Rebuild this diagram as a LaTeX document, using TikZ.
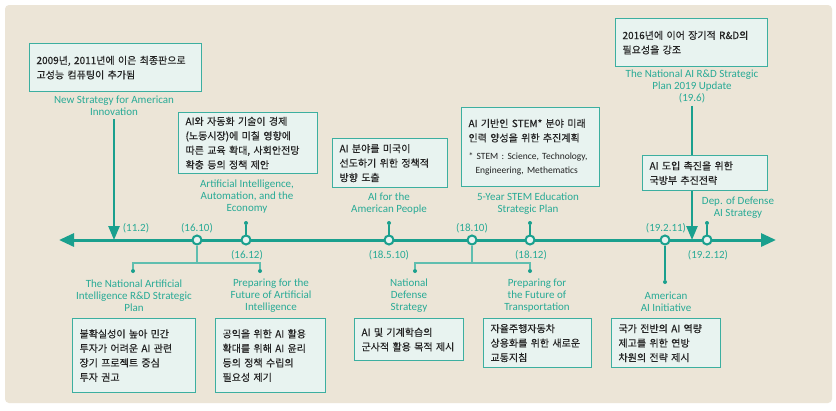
\documentclass[tikz,border=0pt]{standalone}
\usepackage{fontspec}
\setmainfont{Noto Sans CJK KR}
\newfontfamily\kfont[FakeBold=0.4]{Noto Sans CJK KR}
\newfontfamily\lfont{Carlito}
\usetikzlibrary{arrows.meta}
\definecolor{bgbeige}{RGB}{236,229,215}
\definecolor{tealline}{RGB}{26,160,142}
\definecolor{tealtext}{RGB}{40,170,150}
\definecolor{boxfill}{RGB}{232,243,240}
\definecolor{boxedge}{RGB}{60,175,160}
\definecolor{bracketteal}{RGB}{95,190,175}
\definecolor{inkdark}{RGB}{35,35,35}

\begin{document}
\begin{tikzpicture}[
  x=1pt, y=-1pt,
  kbox/.style={draw=boxedge, fill=boxfill, line width=1.1pt, anchor=north west,
               align=left, inner xsep=7pt, inner ysep=0pt, text=inkdark,
               font=\kfont\fontsize{10}{14.5}\selectfont},
  lab/.style={text=tealtext, align=center, inner sep=0pt,
              font=\lfont\fontsize{11}{12}\selectfont},
  datelab/.style={text=tealtext, inner sep=0pt,
                  font=\lfont\fontsize{11}{12}\selectfont},
  event/.style={circle, draw=tealline, fill=boxfill, line width=2pt,
                minimum size=9pt, inner sep=0pt},
  dot/.style={circle, fill=tealline, minimum size=4pt, inner sep=0pt},
  stem/.style={draw=tealline, line width=1.7pt},
  bracket/.style={draw=bracketteal, line width=1.5pt},
  timeline/.style={draw=tealline, line width=3pt,
                   {Triangle[length=15pt,width=13pt]}-{Triangle[length=15pt,width=13pt]}},
  pointer/.style={draw=tealline, line width=2.5pt,
                  -{Triangle[length=14pt,width=11pt]}},
]
\useasboundingbox (0,0) rectangle (836,410);
\fill[white] (0,0) rectangle (836,410);
\fill[bgbeige, rounded corners=4pt] (5,5) rectangle (832,403);

% -------------------------------------------------------------------------
% Timeline with events
% -------------------------------------------------------------------------
\coordinate (tl-w) at (59,240);
\coordinate (tl-e) at (776,240);
\draw[timeline] (tl-w) -- (tl-e);

\node[event] (e1610)  at (197,240) {};
\node[event] (e1612)  at (246,240) {};
\node[event] (e18510) at (389,240) {};
\node[event] (e1810)  at (472,240) {};
\node[event] (e1812)  at (530,240) {};
\node[event] (e19211) at (665,240) {};
\node[event] (e19212) at (707,240) {};

\node[dot] (d1612)  at (246,223) {};
\node[dot] (d18510) at (389,223) {};
\node[dot] (d1812)  at (530,223) {};
\node[dot] (d19212) at (707,223) {};
\node[dot] (d19211) at (665,282) {};
\node[dot] (d-nairdsp) at (133,271) {};
\node[dot] (d-pfai)    at (260,271) {};
\node[dot] (d-nds)     at (415,271) {};
\node[dot] (d-pft)     at (530,271) {};
\coordinate (j1610) at (197,263);
\coordinate (j1810) at (472,263);

\draw[stem] (e1612) -- (d1612);
\draw[stem] (e18510) -- (d18510);
\draw[stem] (e1812) -- (d1812);
\draw[stem] (e19212) -- (d19212);
\draw[stem] (e19211) -- (d19211);
\draw[bracket] (e1610) -- (j1610);
\draw[bracket] (d-nairdsp) |- (j1610) -| (d-pfai);
\draw[bracket] (e1810) -- (j1810);
\draw[bracket] (d-nds) |- (j1810) -| (d-pft);

\node[datelab] (t112)   at (136,228) {(11.2)};
\node[datelab] (t1610)  at (197,228) {(16.10)};
\node[datelab] (t1612)  at (247,255) {(16.12)};
\node[datelab] (t18510) at (389,255) {(18.5.10)};
\node[datelab] (t1810)  at (472,228) {(18.10)};
\node[datelab] (t1812)  at (531,255) {(18.12)};
\node[datelab] (t19211) at (666,228) {(19.2.11)};
\node[datelab] (t19212) at (708,255) {(19.2.12)};

% -------------------------------------------------------------------------
% Above the timeline
% -------------------------------------------------------------------------
\node[kbox, text width=158pt, minimum height=48pt] (b-nsai) at (29,43)
  {2009년, 2011년에 이은 최종판으로\\고성능 컴퓨팅이 추가됨};
\node[lab] (l-nsai) at (114,106) {New Strategy for American\\Innovation};
\coordinate (p112) at (114,240);
\draw[pointer, shorten <=3pt] (l-nsai) -- (p112);

\node[kbox, text width=125pt, minimum height=61pt] (b-aiae) at (178,112)
  {AI와 자동화 기술이 경제\\(노동시장)에 미칠 영향에\\따른 교육 확대, 사회안전망\\확충 등의 정책 제안};
\node[lab] (l-aiae) at (247,197) {Artificial Intelligence,\\Automation, and the\\Economy};

\node[kbox, text width=101pt, minimum height=49pt] (b-aiap) at (332,138)
  {AI 분야를 미국이\\선도하기 위한 정책적\\방향 도출};
\node[lab] (l-aiap) at (389,203.5) {AI for the\\American People};

\node[kbox, text width=124pt, minimum height=79pt] (b-stem) at (461,107)
  {AI 기반인 STEM* 분야 미래\\인력 양성을 위한 추진계획\\[3pt]
   {\lfont\fontsize{9.5}{14.5}\selectfont * STEM : Science, Technology,}\\
   {\lfont\fontsize{9.5}{14.5}\selectfont\hspace*{7pt}Engineering, Methematics}};
\node[lab] (l-stem) at (528,203.5) {5-Year STEM Education\\Strategic Plan};

\node[kbox, text width=138pt, minimum height=48pt] (b-nairds19) at (615,18)
  {2016년에 이어 장기적 R\&D의\\필요성을 강조};
\node[lab] (l-nairds19) at (692,86)
  {The National AI R\&D Strategic\\Plan 2019 Update\\(19.6)};
\coordinate (p196) at (692,240);
\draw[pointer, shorten <=3pt] (l-nairds19) -- (p196);

\node[kbox, text width=111pt, minimum height=35pt] (b-dod) at (642,155)
  {AI 도입 촉진을 위한\\국방부 추진전략};
\node[lab] (l-dod) at (738,207.5) {Dep. of Defense\\AI Strategy};

% -------------------------------------------------------------------------
% Below the timeline
% -------------------------------------------------------------------------
\node[lab] (l-nairdsp) at (134,296)
  {The National Artificial\\Intelligence R\&D Strategic\\Plan};
\node[kbox, text width=109pt, minimum height=74pt] (b-nairdsp) at (72,318)
  {불확실성이 높아 민간\\투자가 어려운 AI 관련\\장기 프로젝트 중심\\투자 권고};

\node[lab] (l-pfai) at (271,296)
  {Preparing for the\\Future of Artificial\\Intelligence};
\node[kbox, text width=96pt, minimum height=74pt] (b-pfai) at (215,318)
  {공익을 위한 AI 활용\\확대를 위해 AI 윤리\\등의 정책 수립의\\필요성 제기};

\node[lab] (l-nds) at (409,296) {National\\Defense\\Strategy};
\node[kbox, text width=95pt, minimum height=42pt] (b-nds) at (354,318)
  {AI 및 기계학습의\\군사적 활용 목적 제시};

\node[lab] (l-pft) at (537,296)
  {Preparing for\\the Future of\\Transportation};
\node[kbox, text width=94pt, minimum height=49pt] (b-pft) at (483,318)
  {자율주행자동차\\상용화를 위한 새로운\\교통지침};

\node[lab] (l-aai) at (666,302) {American\\AI Initiative};
\node[kbox, text width=95pt, minimum height=49pt] (b-aai) at (611,318)
  {국가 전반의 AI 역량\\제고를 위한 연방\\차원의 전략 제시};

\end{tikzpicture}
\end{document}
